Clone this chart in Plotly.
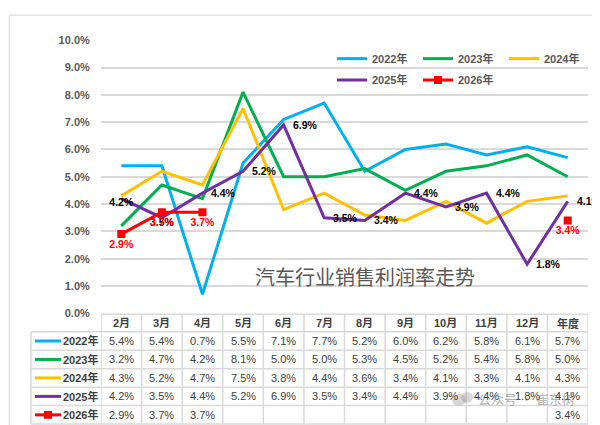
import plotly.graph_objects as go

months = ["2月", "3月", "4月", "5月", "6月", "7月", "8月", "9月", "10月", "11月", "12月", "年度"]
y2022 = [5.4, 5.4, 0.7, 5.5, 7.1, 7.7, 5.2, 6.0, 6.2, 5.8, 6.1, 5.7]
y2023 = [3.2, 4.7, 4.2, 8.1, 5.0, 5.0, 5.3, 4.5, 5.2, 5.4, 5.8, 5.0]
y2024 = [4.3, 5.2, 4.7, 7.5, 3.8, 4.4, 3.6, 3.4, 4.1, 3.3, 4.1, 4.3]
y2025 = [4.2, 3.5, 4.4, 5.2, 6.9, 3.5, 3.4, 4.4, 3.9, 4.4, 1.8, 4.1]
y2026 = [2.9, 3.7, 3.7, None, None, None, None, None, None, None, None, 3.4]

series = [
    ("2022年", y2022, "#00B0F0"),
    ("2023年", y2023, "#00B050"),
    ("2024年", y2024, "#FFC000"),
    ("2025年", y2025, "#7030A0"),
    ("2026年", y2026, "#FF0000"),
]

W, H = 600, 425
FONT = "Liberation Sans, Noto Sans CJK SC, sans-serif"
GRID = "#D9D9D9"


def py(px):
    # pixel row -> paper y
    return 1 - px / H


def px_x(px):
    return px / W


def fmt(v):
    return "" if v is None else f"{v:.1f}%"


fig = go.Figure()
annotations = []
shapes = []

for k, (name, vals, color) in enumerate(series):
    tr = dict(
        x=months, y=vals, name=name,
        line=dict(color=color, width=3),
        connectgaps=False,
        legend="legend" if k < 3 else "legend2",
    )
    if name == "2026年":
        tr.update(mode="lines+markers+text",
                  marker=dict(symbol="square", size=8, color=color),
                  text=[fmt(v) for v in vals],
                  textposition="bottom center",
                  textfont=dict(color="#FF0000", size=10.5, family=FONT, weight="bold"))
    elif name == "2025年":
        # first two labels sit under the point, the rest to the right
        tr.update(mode="lines+text",
                  text=[fmt(v) for v in vals[:2]] + [""] * (len(vals) - 2),
                  textposition="bottom center",
                  textfont=dict(color="#000000", size=10.5, family=FONT, weight="bold"))
        for m, v in list(zip(months, vals))[2:]:
            annotations.append(dict(text=fmt(v), x=m, y=v, xref="x", yref="y",
                                    xanchor="left", yanchor="middle", xshift=7,
                                    showarrow=False,
                                    font=dict(color="#000000", size=10.5, family=FONT,
                                              weight="bold")))
    else:
        tr.update(mode="lines")
    fig.add_trace(go.Scatter(**tr))

# chart title inside plot
annotations.append(dict(
    text="汽车行业销售利润率走势", xref="paper", yref="paper",
    x=px_x(357), y=py(270), xanchor="center", yanchor="middle", showarrow=False,
    font=dict(size=20, color="#595959", family="Noto Sans CJK SC")))

# data table below the plot
top, head_bot, row_h = 309, 327, 19
n = len(months)
bottom = head_bot + row_h * len(series)
shapes.append(dict(type="line", xref="x", yref="paper", x0=-0.5, x1=n - 0.5,
                   y0=py(top), y1=py(top), line=dict(color=GRID, width=1.5)))
for m in months:
    annotations.append(dict(text=m, xref="x", yref="paper", x=m,
                            y=py((top + head_bot) / 2), yanchor="middle", showarrow=False,
                            font=dict(size=11, color="#404040", family=FONT, weight="bold")))
for i in range(n + 1):
    shapes.append(dict(type="line", xref="x", yref="paper", x0=i - 0.5, x1=i - 0.5,
                       y0=py(top), y1=py(bottom), line=dict(color=GRID, width=1.5)))
shapes.append(dict(type="line", xref="paper", yref="paper", x0=px_x(23), x1=px_x(23),
                   y0=py(head_bot), y1=py(bottom), line=dict(color=GRID, width=1.5)))
for r in range(len(series) + 1):
    yy = py(head_bot + row_h * r)
    shapes.append(dict(type="line", xref="paper", yref="paper", x0=px_x(23), x1=px_x(580),
                       y0=yy, y1=yy, line=dict(color=GRID, width=1.5)))

for r, (name, vals, color) in enumerate(series):
    yc = py(head_bot + row_h * r + row_h / 2)
    shapes.append(dict(type="line", xref="paper", yref="paper", x0=px_x(27), x1=px_x(53),
                       y0=yc, y1=yc, line=dict(color=color, width=3)))
    if name == "2026年":
        shapes.append(dict(type="rect", xref="paper", yref="paper",
                           x0=px_x(36), x1=px_x(44), y0=yc - 4 / H, y1=yc + 4 / H,
                           fillcolor=color, line=dict(width=0)))
    annotations.append(dict(text=name, xref="paper", yref="paper",
                            x=px_x(53), y=yc, xanchor="left", yanchor="middle",
                            showarrow=False,
                            font=dict(size=11, color="#404040", family=FONT, weight="bold")))
    for m, v in zip(months, vals):
        if v is None:
            continue
        annotations.append(dict(text=fmt(v), xref="x", yref="paper", x=m, y=yc,
                                yanchor="middle", showarrow=False,
                                font=dict(size=11, color="#404040", family=FONT)))

# watermark (semi-transparent, sits over the table like in the source)
shapes.append(dict(type="circle", xref="paper", yref="paper",
                   x0=px_x(444), x1=px_x(458), y0=py(403), y1=py(391),
                   fillcolor="rgba(140,140,140,0.35)", line=dict(width=0)))
shapes.append(dict(type="circle", xref="paper", yref="paper",
                   x0=px_x(453), x1=px_x(465), y0=py(400), y1=py(389),
                   fillcolor="rgba(140,140,140,0.35)", line=dict(width=0)))
annotations.append(dict(text="公众号 · 崔东树", xref="paper", yref="paper",
                        x=px_x(468), y=py(396), xanchor="left", yanchor="middle",
                        showarrow=False,
                        font=dict(size=13, color="rgba(110,110,110,0.55)",
                                  family="Noto Sans CJK SC")))

# outer frame
shapes.append(dict(type="rect", xref="paper", yref="paper", x0=0.002, x1=0.997,
                   y0=0.003, y1=0.997, line=dict(color=GRID, width=1)))

leg = dict(orientation="h", xanchor="left", yanchor="top",
           entrywidth=41, entrywidthmode="pixels",
           font=dict(size=11, color="#595959", family=FONT, weight="bold"),
           bgcolor="rgba(0,0,0,0)", itemwidth=30)

fig.update_layout(
    width=W, height=H,
    margin=dict(l=0, r=0, t=0, b=0),
    plot_bgcolor="white", paper_bgcolor="white",
    font=dict(family=FONT, color="#595959"),
    showlegend=True,
    legend=dict(leg, x=px_x(324), y=py(31)),
    legend2=dict(leg, x=px_x(324), y=py(53)),
    shapes=shapes,
    annotations=annotations,
)
fig.update_xaxes(domain=[px_x(93), px_x(580)], range=[-0.5, n - 0.5],
                 showticklabels=False, showgrid=False, zeroline=False, showline=False)
fig.update_yaxes(domain=[py(308), py(27)], range=[0, 10], dtick=1,
                 tickformat=".1f", ticksuffix="%",
                 showgrid=True, gridcolor=GRID, gridwidth=1.5, zeroline=False,
                 ticks="outside", ticklen=8, tickcolor="rgba(0,0,0,0)",
                 tickfont=dict(size=11, color="#595959", family=FONT, weight="bold"))

fig.write_html("out.html")
